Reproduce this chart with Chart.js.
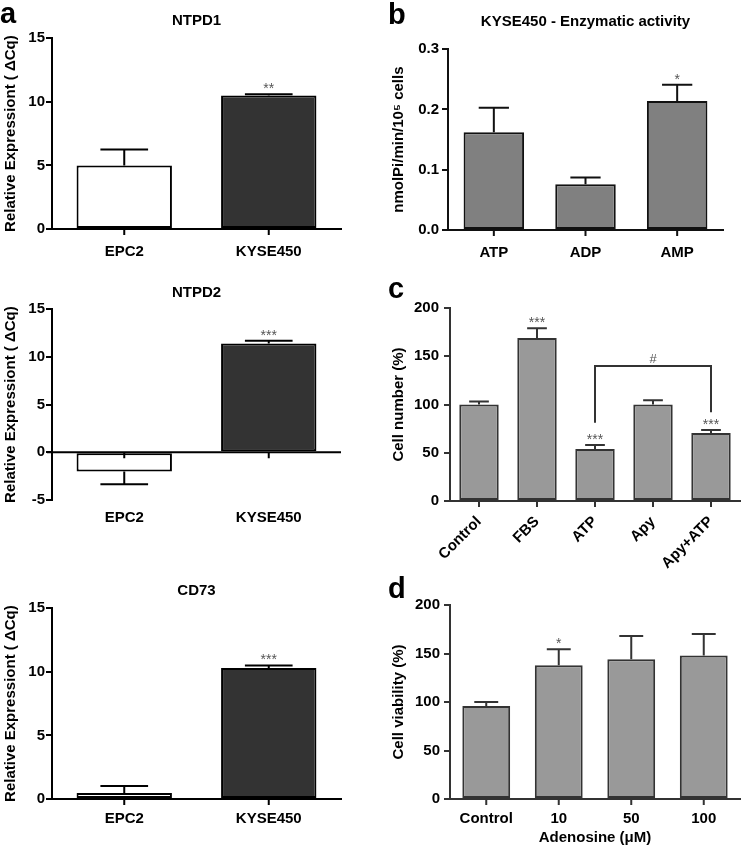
<!DOCTYPE html>
<html>
<head>
<meta charset="utf-8">
<script src="https://cdn.jsdelivr.net/npm/chart.js@4.4.1/dist/chart.umd.min.js"></script>
<style>
  body { margin: 0; background: #fff; }
  #fig { position: relative; width: 742px; height: 849px; background: #fff; overflow: hidden; }
  #fig canvas { position: absolute; }
  .lbl { position: absolute; font: bold 29px "Liberation Sans", Arial, sans-serif; line-height: 29px; color: #000; }
</style>
</head>
<body>
<div id="fig">
  <canvas id="ntpd1" width="345" height="265" style="left:0;top:0"></canvas>
  <canvas id="ntpd2" width="345" height="260" style="left:0;top:270px"></canvas>
  <canvas id="cd73" width="345" height="264" style="left:0;top:565px"></canvas>
  <canvas id="enz" width="345" height="266" style="left:383px;top:0"></canvas>
  <canvas id="cellnum" width="359" height="291" style="left:383px;top:290px"></canvas>
  <canvas id="viab" width="359" height="264" style="left:383px;top:585px"></canvas>
  <div class="lbl" style="left:0;top:-1px">a</div>
  <div class="lbl" style="left:388px;top:0">b</div>
  <div class="lbl" style="left:388px;top:274px">c</div>
  <div class="lbl" style="left:388px;top:574px">d</div>
</div>
<script>
// dane
const cellLines = ['EPC2', 'KYSE450'];

const ntpd1Values = [5.0, 10.5];
const ntpd1Errors = [1.25, 0.1];
const ntpd1Stars = ['', '**'];

const ntpd2Values = [-2.0, 11.4];
const ntpd2Errors = [1.35, 0.3];
const ntpd2Stars = ['', '***'];

const cd73Values = [0.47, 10.3];
const cd73Errors = [0.55, 0.2];
const cd73Stars = ['', '***'];

const nucleotides = ['ATP', 'ADP', 'AMP'];
const enzValues = [0.162, 0.076, 0.214];
const enzErrors = [0.041, 0.011, 0.027];
const enzStars = ['', '', '*'];

const treatments = ['Control', 'FBS', 'ATP', 'Apy', 'Apy+ATP'];
const cellNumValues = [100, 169, 54, 100, 70.5];
const cellNumErrors = [3, 10, 4, 4.5, 3];
const cellNumStars = ['', '***', '***', '', '***'];
// klamra "#" miedzy ATP i Apy+ATP
const bracketFrom = 'ATP';
const bracketTo = 'Apy+ATP';
const bracketLevel = 140;
const bracketLegs = [81, 92];
const bracketText = '#';

const adenosine = ['Control', '10', '50', '100'];
const viabValues = [96, 138, 144, 148];
const viabErrors = [4, 16.5, 24, 22];
const viabStars = ['', '*', '', ''];

Chart.defaults.font.family = '"Liberation Sans", Arial, sans-serif';
Chart.defaults.font.weight = 'bold';
Chart.defaults.font.size = 15;
Chart.defaults.color = '#000';
Chart.defaults.animation = false;

// slupki bledow, gwiazdki, linia zera, znaczniki osi x, klamra
const extras = {
  id: 'extras',
  afterDatasetsDraw(chart, args, opts) {
    const ctx = chart.ctx;
    const ds = chart.data.datasets[0];
    const meta = chart.getDatasetMeta(0);
    const y = chart.scales.y;
    const x = chart.scales.x;
    const y0 = y.getPixelForValue(0);
    ctx.save();
    ctx.strokeStyle = opts.lineColor;
    ctx.lineWidth = 2;
    ctx.beginPath();
    if (opts.zeroLine) {
      ctx.moveTo(chart.chartArea.left - 5, y0);
      ctx.lineTo(chart.chartArea.right, y0);
    }
    meta.data.forEach(bar => {
      ctx.moveTo(bar.x, y0);
      ctx.lineTo(bar.x, y0 + 6);
    });
    ctx.stroke();

    ctx.font = 'normal 14px "Liberation Sans", Arial, sans-serif';
    ctx.fillStyle = '#555';
    ctx.textAlign = 'center';
    ctx.textBaseline = 'alphabetic';
    meta.data.forEach((bar, i) => {
      const v = ds.data[i];
      const end = v < 0 ? v - ds.errors[i] : v + ds.errors[i];
      const y1 = y.getPixelForValue(v);
      const y2 = y.getPixelForValue(end);
      const half = bar.width / 4;
      ctx.beginPath();
      ctx.moveTo(bar.x, y1);
      ctx.lineTo(bar.x, y2);
      ctx.moveTo(bar.x - half, y2);
      ctx.lineTo(bar.x + half, y2);
      ctx.stroke();
      if (ds.stars[i]) {
        ctx.fillText(ds.stars[i], bar.x, y2 - 1);
      }
    });
    if (opts.bracket) {
      const b = opts.bracket;
      const xa = x.getPixelForValue(chart.data.labels.indexOf(b.from));
      const xb = x.getPixelForValue(chart.data.labels.indexOf(b.to));
      const yl = y.getPixelForValue(b.level);
      ctx.beginPath();
      ctx.moveTo(xa, y.getPixelForValue(b.legs[0]));
      ctx.lineTo(xa, yl);
      ctx.lineTo(xb, yl);
      ctx.lineTo(xb, y.getPixelForValue(b.legs[1]));
      ctx.stroke();
      ctx.font = 'normal 13px "Liberation Sans", Arial, sans-serif';
      ctx.fillText(b.text, (xa + xb) / 2, yl - 3);
    }
    ctx.restore();
  }
};

function drawPanel(id, p) {
  new Chart(document.getElementById(id), {
    type: 'bar',
    data: {
      labels: p.labels,
      datasets: [{
        data: p.values,
        errors: p.errors,
        stars: p.stars,
        backgroundColor: p.colors,
        borderColor: p.line,
        borderWidth: 2,
        borderSkipped: false,
        categoryPercentage: 1,
        barPercentage: p.barPct
      }]
    },
    options: {
      responsive: false,
      layout: { padding: p.padding },
      plugins: {
        legend: { display: false },
        tooltip: { enabled: false },
        title: {
          display: !!p.title,
          text: p.title,
          fullSize: false,
          color: '#000',
          font: { size: 15, weight: 'bold' },
          padding: p.titlePad || 0
        },
        extras: { lineColor: p.line, zeroLine: p.zeroLine, bracket: p.bracket }
      },
      scales: {
        x: {
          grid: { display: false },
          border: { display: !p.zeroLine, color: p.line, width: 2 },
          ticks: { padding: p.xPad, autoSkip: false, minRotation: p.rot || 0, maxRotation: p.rot || 0, color: '#000' },
          title: p.xTitle ? { display: true, text: p.xTitle, font: { size: 15, weight: 'bold' }, padding: { top: 0, bottom: 2 } } : { display: false },
          afterFit: s => { s.height = p.xH; }
        },
        y: {
          min: p.min,
          max: p.max,
          grid: { display: true, drawOnChartArea: false, tickLength: 6, color: p.line, lineWidth: 2 },
          border: { color: p.line, width: 2 },
          ticks: { stepSize: p.step, padding: p.yPad, color: '#000', callback: p.fmt || (v => v) },
          title: { display: true, text: p.yTitle, font: { size: 15, weight: 'bold' }, padding: { top: p.yTitlePad, bottom: 0 } },
          afterFit: s => { s.width = p.yW; }
        }
      }
    },
    plugins: [extras]
  });
}

const exprTitle = 'Relative Expressiont ( \u0394Cq)';
const aColors = ['#ffffff', '#333333'];

drawPanel('ntpd1', {
  labels: cellLines, values: ntpd1Values, errors: ntpd1Errors, stars: ntpd1Stars,
  colors: aColors, line: '#000', barPct: 0.66, title: 'NTPD1',
  titlePad: { top: 12, bottom: 8.2 }, padding: { right: 4 },
  min: 0, max: 15, step: 5, yW: 52, yPad: 1, yTitle: exprTitle, yTitlePad: 2, xH: 36, xPad: 6
});

drawPanel('ntpd2', {
  labels: cellLines, values: ntpd2Values, errors: ntpd2Errors, stars: ntpd2Stars,
  colors: aColors, line: '#000', barPct: 0.66, title: 'NTPD2', zeroLine: true,
  titlePad: { top: 14, bottom: 7.2 }, padding: { right: 4 },
  min: -5, max: 15, step: 5, yW: 52, yPad: 1, yTitle: exprTitle, yTitlePad: 2, xH: 30, xPad: 1
});

drawPanel('cd73', {
  labels: cellLines, values: cd73Values, errors: cd73Errors, stars: cd73Stars,
  colors: aColors, line: '#000', barPct: 0.66, title: 'CD73',
  titlePad: { top: 16.6, bottom: 8.6 }, padding: { right: 4 },
  min: 0, max: 15, step: 5, yW: 52, yPad: 1, yTitle: exprTitle, yTitlePad: 2, xH: 30, xPad: 3
});

drawPanel('enz', {
  labels: nucleotides, values: enzValues, errors: enzErrors, stars: enzStars,
  colors: '#808080', line: '#111', barPct: 0.66, title: 'KYSE450 - Enzymatic activity',
  titlePad: { top: 12.6, bottom: 18.6 }, padding: { right: 5 },
  min: 0, max: 0.3, step: 0.1, fmt: v => v.toFixed(1), yW: 65, yPad: 3,
  yTitle: 'nmolPi/min/10\u2075 cells', yTitlePad: 7, xH: 36, xPad: 6
});

drawPanel('cellnum', {
  labels: treatments, values: cellNumValues, errors: cellNumErrors, stars: cellNumStars,
  colors: '#999999', line: '#333', barPct: 0.68, padding: { top: 18, right: 2 },
  min: 0, max: 200, step: 50, yW: 67, yPad: 5, yTitle: 'Cell number (%)', yTitlePad: 7,
  xH: 80, xPad: 4, rot: 45,
  bracket: { from: bracketFrom, to: bracketTo, level: bracketLevel, legs: bracketLegs, text: bracketText }
});

drawPanel('viab', {
  labels: adenosine, values: viabValues, errors: viabErrors, stars: viabStars,
  colors: '#999999', line: '#333', barPct: 0.66, padding: { top: 20, right: 2 },
  min: 0, max: 200, step: 50, yW: 67, yPad: 4, yTitle: 'Cell viability (%)', yTitlePad: 7,
  xH: 50, xPad: 3, xTitle: 'Adenosine (\u03bcM)'
});
</script>
</body>
</html>
